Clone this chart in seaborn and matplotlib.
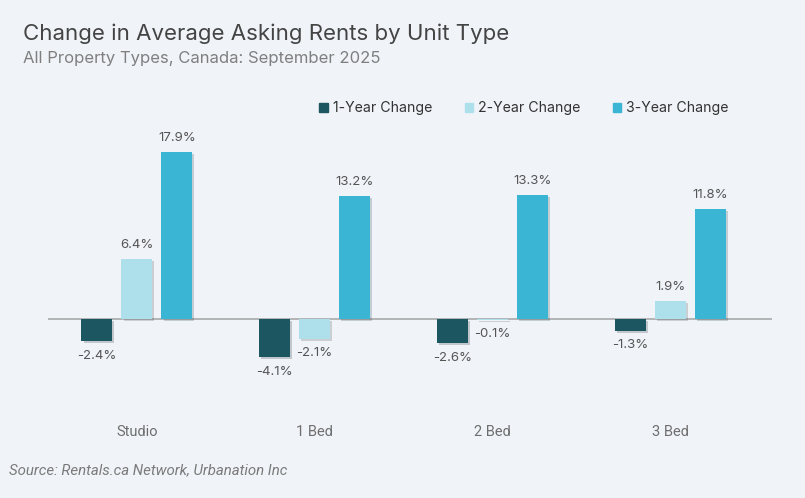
import pandas as pd
import numpy as np
import matplotlib.pyplot as plt
import matplotlib.patheffects as pe
from matplotlib.patches import Patch
import seaborn as sns

units = ['Studio', '1 Bed', '2 Bed', '3 Bed']
one_year = [-2.4, -4.1, -2.6, -1.3]
two_year = [6.4, -2.1, -0.1, 1.9]
three_year = [17.9, 13.2, 13.3, 11.8]
series = ['1-Year Change', '2-Year Change', '3-Year Change']
colors = ['#1c5661', '#aee0ec', '#3bb5d4']

df = pd.DataFrame({
    'Unit': units * 3,
    'Series': [s for s in series for _ in units],
    'Change': one_year + two_year + three_year,
})

bg = '#f0f3f8'
sns.set_theme(style='white')
plt.rcParams['font.family'] = ['Inter', 'DejaVu Sans']

fig = plt.figure(figsize=(8.05, 4.98), dpi=100, facecolor=bg)
ax = fig.add_axes([48/805, 1-412/498, (772-48)/805, (412-125)/498])
ax.set_facecolor(bg)

sns.barplot(data=df, x='Unit', y='Change', hue='Series', palette=colors,
            width=0.675, gap=0.23, ax=ax, legend=False, saturation=1,
            linewidth=0, edgecolor='none')

for bar in ax.patches:
    bar.set_path_effects([pe.SimplePatchShadow(offset=(1.5, -1.5), alpha=0.2), pe.Normal()])

for cont in ax.containers:
    labels = [f'{v:.1f}%' for v in cont.datavalues]
    ax.bar_label(cont, labels=labels, padding=6, fontsize=9.5, color='#555555')

ax.axhline(0, color='#a9a9a9', lw=1.2, zorder=0)
ax.set_xlim(-0.5, 3.573)
ax.set_ylim(-9.97, 20.8)
ax.set_yticks([])
ax.set_xlabel('')
ax.set_ylabel('')
ax.tick_params(axis='x', length=0, pad=9, labelsize=10.5, labelcolor='#6e6e6e')
for lab in ax.get_xticklabels():
    lab.set_family(['Roboto', 'DejaVu Sans'])
for s in ax.spines.values():
    s.set_visible(False)

# legend
handles = [Patch(color=c) for c in colors]
fig.legend(handles, series, loc='center', bbox_to_anchor=(524/805, 1-108/498),
           ncol=3, frameon=False, fontsize=10.2, handlelength=0.6, handleheight=0.6,
           handletextpad=0.35, columnspacing=2.3, labelcolor='#333333')

fig.text(23/805, 1-34/498, 'Change in Average Asking Rents by Unit Type',
         fontsize=16, color='#444444', va='center')
fig.text(23/805, 1-58/498, 'All Property Types, Canada: September 2025',
         fontsize=12, color='#7f7f7f', va='center')
fig.text(9/805, 1-470/498, 'Source: Rentals.ca Network, Urbanation Inc',
         fontsize=10.8, color='#7a7a7a', va='center', style='italic',
         family=['Roboto', 'DejaVu Sans'])

fig.savefig('out.png', dpi=100, facecolor=bg)
